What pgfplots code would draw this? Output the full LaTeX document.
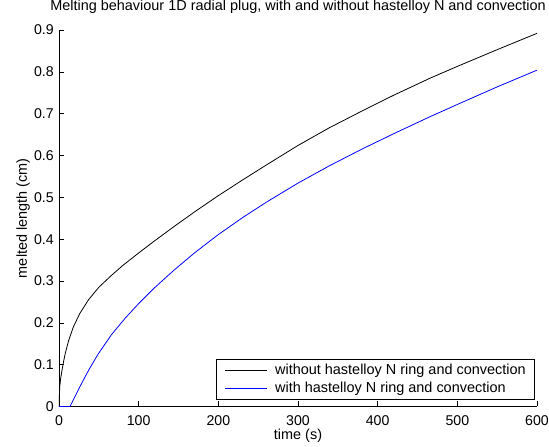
\documentclass[border=0pt]{standalone}
\usepackage{fontspec}
\setmainfont{Liberation Sans}
\usepackage{pgfplots}
\pgfplotsset{compat=1.18}
\begin{document}
\fontsize{14.5}{17}\selectfont
\begin{tikzpicture}
\begin{axis}[
  name=ax,
  scale only axis,
  width=478bp, height=376.5bp,
  xmin=0, xmax=600, ymin=0, ymax=0.9,
  axis x line*=bottom, axis y line*=left,
  axis line style={line width=0.6bp, black},
  every tick/.style={black, line width=0.6bp},
  tick align=inside,
  major tick length=5bp,
  xtick={0,100,200,300,400,500,600},
  ytick={0,0.1,0.2,0.3,0.4,0.5,0.6,0.7,0.8,0.9},
  /pgf/number format/assume math mode=true,
  yticklabel style={/pgf/number format/fixed, /pgf/number format/precision=1, inner sep=0pt, xshift=-5bp, font=\fontsize{14.2}{17}\selectfont},
  xticklabel style={inner sep=0pt, yshift=-9bp, font=\fontsize{14.2}{17}\selectfont},
  xlabel={time (s)},
  ylabel={melted length (cm)},
  xlabel style={at={(axis description cs:0.5,0)}, anchor=north, yshift=-22bp, inner sep=0pt, font=\fontsize{14.5}{17}\selectfont},
  ylabel style={at={(axis description cs:0,0.5)}, anchor=south, rotate=0, yshift=29bp, inner sep=0pt, font=\fontsize{14.5}{17}\selectfont},
  title={Melting behaviour 1D radial plug, with and without hastelloy N and convection},
  title style={at={(axis description cs:0.5,1)}, anchor=base, yshift=13.3bp, inner sep=0pt, font=\fontsize{14.5}{17}\selectfont},
  legend cell align=left,
  legend image code/.code={\draw[#1] (0bp,0bp) -- (42bp,0bp);},
  legend style={at={(rel axis cs:0.9958,0.019)}, anchor=south east, draw=black, line width=0.6bp,
    font=\fontsize{14.5}{17}\selectfont, inner xsep=8.5bp, inner ysep=4bp, row sep=4bp,
    nodes={inner sep=0.5bp}, column sep=7bp},
]
\addplot[black, line width=0.8bp] coordinates {
(0,0) (0.3,0.02) (1,0.048) (2,0.066) (4,0.089) (6,0.110) (8,0.128) (12,0.157) (18,0.190)
(26,0.222) (37,0.255) (50,0.285) (65,0.312) (80,0.337) (100,0.367) (120,0.396) (145,0.431)
(170,0.465) (200,0.504) (230,0.541) (260,0.577) (300,0.624) (340,0.667) (380,0.706)
(420,0.744) (466,0.785) (500,0.813) (550,0.853) (600,0.892)
};
\addlegendentry{without hastelloy N ring and convection}
\addplot[color={rgb,1:red,0;green,0;blue,1}, line width=0.8bp] coordinates {
(0,0) (13.8,0) (18,0.016) (24,0.039) (30,0.061) (37,0.086) (49,0.125) (66,0.172) (83,0.211)
(100,0.246) (120,0.284) (145,0.327) (170,0.367) (200,0.411) (230,0.451) (260,0.488)
(300,0.534) (340,0.576) (380,0.615) (420,0.652) (466,0.693) (500,0.722) (550,0.764) (600,0.804)
};
\addlegendentry{with hastelloy N ring and convection}
\end{axis}
\pgfresetboundingbox
\path[use as bounding box] ([xshift=-59bp,yshift=-40.5bp]ax.south west) rectangle ([xshift=12bp,yshift=30bp]ax.north east);
\end{tikzpicture}
\end{document}
